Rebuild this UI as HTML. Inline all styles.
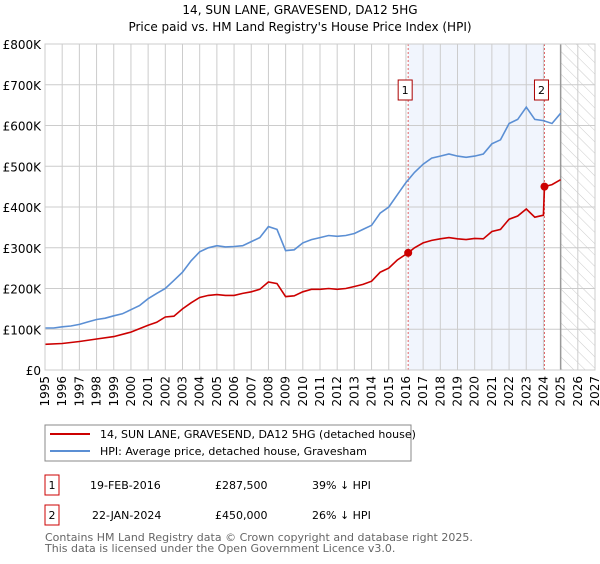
<!DOCTYPE html>
<html><head><meta charset="utf-8"><style>
body{margin:0;background:#fff;font-family:"DejaVu Sans","Liberation Sans",sans-serif;}
svg text{font-family:"DejaVu Sans","Liberation Sans",sans-serif;}
</style></head><body>
<svg id="c" width="600" height="560" xmlns="http://www.w3.org/2000/svg">
<defs><pattern id="hatch" width="8" height="8" patternUnits="userSpaceOnUse" patternTransform="rotate(-45)"><line x1="0" y1="0" x2="0" y2="8" stroke="#ccc" stroke-width="1"/></pattern></defs>
<text x="300" y="14" text-anchor="middle" font-size="12">14, SUN LANE, GRAVESEND, DA12 5HG</text>
<text x="300" y="31" text-anchor="middle" font-size="12">Price paid vs. HM Land Registry's House Price Index (HPI)</text>
<g id="plot"></g>
<rect x="45" y="425" width="366" height="36" fill="#fff" stroke="#888"/>
<line x1="50" y1="434" x2="90" y2="434" stroke="#cc0000" stroke-width="2"/>
<text x="100" y="438" font-size="11">14, SUN LANE, GRAVESEND, DA12 5HG (detached house)</text>
<line x1="50" y1="451" x2="90" y2="451" stroke="#5b8fd4" stroke-width="2"/>
<text x="100" y="455" font-size="11">HPI: Average price, detached house, Gravesham</text>
<g>
<rect x="45" y="475" width="14" height="20" fill="#fff" stroke="#cc0000"/><text x="52" y="489" text-anchor="middle" font-size="11">1</text>
<text x="90" y="489" font-size="11">19-FEB-2016</text><text x="215" y="489" font-size="11">£287,500</text><text x="312" y="489" font-size="11">39% ↓ HPI</text></g>
<g>
<rect x="45" y="505" width="14" height="20" fill="#fff" stroke="#cc0000"/><text x="52" y="519" text-anchor="middle" font-size="11">2</text>
<text x="92" y="519" font-size="11">22-JAN-2024</text><text x="215" y="519" font-size="11">£450,000</text><text x="312" y="519" font-size="11">26% ↓ HPI</text></g>
<text x="45" y="541" font-size="11" fill="#666">Contains HM Land Registry data © Crown copyright and database right 2025.</text>
<text x="45" y="552" font-size="11" fill="#666">This data is licensed under the Open Government Licence v3.0.</text>
</svg>
<script>
const hpiYears=[1995,1995.5,1996,1996.5,1997,1997.5,1998,1998.5,1999,1999.5,2000,2000.5,2001,2001.5,2002,2002.5,2003,2003.5,2004,2004.5,2005,2005.5,2006,2006.5,2007,2007.5,2008,2008.5,2009,2009.5,2010,2010.5,2011,2011.5,2012,2012.5,2013,2013.5,2014,2014.5,2015,2015.5,2016,2016.5,2017,2017.5,2018,2018.5,2019,2019.5,2020,2020.5,2021,2021.5,2022,2022.5,2023,2023.5,2024,2024.5,2025];
const hpiValues=[103,103,106,108,112,118,124,127,133,138,148,158,175,188,200,220,240,268,290,300,305,302,303,305,315,325,352,345,293,295,312,320,325,330,328,330,335,345,355,385,400,430,460,485,505,520,525,530,525,522,525,530,555,565,605,615,645,615,612,605,630];
const priceYears=[1995,1996,1997,1998,1999,2000,2001,2001.5,2002,2002.5,2003,2003.5,2004,2004.5,2005,2005.5,2006,2006.5,2007,2007.5,2008,2008.5,2009,2009.5,2010,2010.5,2011,2011.5,2012,2012.5,2013,2013.5,2014,2014.5,2015,2015.5,2016.13,2016.5,2017,2017.5,2018,2018.5,2019,2019.5,2020,2020.5,2021,2021.5,2022,2022.5,2023,2023.5,2024.0,2024.06,2024.5,2025];
const priceValues=[63,65,70,76,82,93,110,117,130,132,150,165,178,183,185,183,183,188,192,198,216,212,180,182,192,198,198,200,198,200,205,210,218,240,250,270,287.5,300,312,318,322,325,322,320,323,322,340,345,370,378,395,375,380,450,455,467];
const saleYears=[2016.13,2024.06];
const saleValues=[287.5,450];
const saleLabels=["1","2"];
const yTicks=[0,100,200,300,400,500,600,700,800];
const yTickLabels=["£0","£100K","£200K","£300K","£400K","£500K","£600K","£700K","£800K"];
const xTicks=[1995,1996,1997,1998,1999,2000,2001,2002,2003,2004,2005,2006,2007,2008,2009,2010,2011,2012,2013,2014,2015,2016,2017,2018,2019,2020,2021,2022,2023,2024,2025,2026,2027];
const ns="http://www.w3.org/2000/svg";
const L=45,R=595,T=44,B=370,x0=1995,x1=2027;
const X=v=>L+(v-x0)/(x1-x0)*(R-L);
const Y=v=>B-v/800*(B-T);
const g=document.getElementById('plot');
function mk(t,a){const e=document.createElementNS(ns,t);for(const k in a)e.setAttribute(k,a[k]);g.appendChild(e);return e;}
let e=mk('rect',{x:X(saleYears[0]),y:T,width:X(saleYears[1])-X(saleYears[0]),height:B-T,fill:'#eef3fc',opacity:0.8});


e=mk('rect',{x:X(2025),y:T,width:R-X(2025),height:B-T,fill:'url(#hatch)'});


yTicks.forEach((v,i)=>{
 let l=mk('line',{x1:L,x2:R,y1:Y(v),y2:Y(v),stroke:'#ccc'});
 
 
 let t=mk('text',{x:L-4,y:Y(v)+5,'text-anchor':'end','font-size':12});
 
 
 t.textContent=yTickLabels[i];
});
xTicks.forEach(v=>{
 let l=mk('line',{x1:X(v),x2:X(v),y1:T,y2:B,stroke:'#ccc'});
 
 
 let t=mk('text',{x:X(v)+4,y:B+6,'text-anchor':'end','font-size':12,transform:`rotate(-90 ${X(v)+4} ${B+6})`});
 
 
 t.textContent=v;
});
e=mk('line',{x1:X(2025),x2:X(2025),y1:T,y2:B,stroke:'#999','stroke-width':1.5});


saleYears.forEach((v,i)=>{
 let l=mk('line',{x1:X(v),x2:X(v),y1:T,y2:B,stroke:'#e06666','stroke-dasharray':'2,2'});
 
 
});
function path(xs,ys,c,n){
 let p=mk('path',{d:xs.map((v,i)=>(i?'L':'M')+X(v).toFixed(1)+','+Y(ys[i]).toFixed(1)).join(''),fill:'none',stroke:c,'stroke-width':1.6});
 
 
}
path(hpiYears,hpiValues,'#5b8fd4','hpi-line');
path(priceYears,priceValues,'#cc0000','price-line');
saleYears.forEach((v,i)=>{
 let c=mk('circle',{cx:X(v),cy:Y(saleValues[i]),r:4,fill:'#cc0000'});
 
 
 let r=mk('rect',{x:X(v)-10,y:80,width:14,height:20,fill:'#fff',stroke:'#aa0000'});
 
 
 let t=mk('text',{x:X(v)-3,y:94,'text-anchor':'middle','font-size':11});
 
 
 t.textContent=saleLabels[i];
});
e=mk('rect',{x:L,y:T,width:R-L,height:B-T,fill:'none',stroke:'#ccc'});


</script>
</body></html>
